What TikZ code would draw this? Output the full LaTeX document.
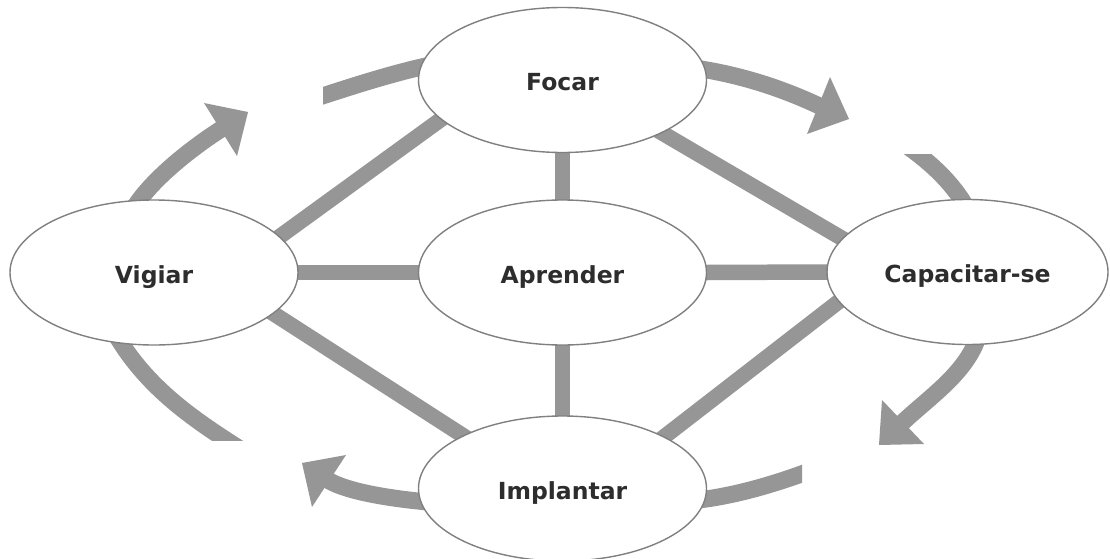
\documentclass[tikz,border=0pt]{standalone}
\usepackage{fontspec}
\setmainfont{DejaVu Sans}
\usetikzlibrary{shapes.geometric,backgrounds}
\definecolor{barc}{RGB}{150,150,150}
\definecolor{edgec}{RGB}{128,128,128}
\definecolor{txtc}{RGB}{45,45,45}
\begin{document}
\begin{tikzpicture}[x=1pt,y=-1pt,
  stage/.style={ellipse, draw=edgec, line width=1.4pt, fill=white,
    minimum width=288pt, minimum height=145pt, inner sep=0pt,
    text=txtc, font=\fontsize{23.5}{28}\selectfont\bfseries,
    text height=21pt, text depth=0pt},
  bar/.style={draw=barc, line width=15.5pt, shorten <=-10pt, shorten >=-10pt},
  band/.style={draw=barc, line width=17pt},
  head/.style={fill=barc}
]
\useasboundingbox (0,0) rectangle (1110,559);
\node[stage] (F) at (562.5,80) {Focar};
\node[stage] (A) at (562.5,272.5) {Aprender};
\node[stage] (V) at (154,272.5) {Vigiar};
\node[stage, minimum width=281pt] (C) at (967.5,272) {Capacitar-se};
\node[stage] (I) at (562.5,488.5) {Implantar};
\begin{scope}[on background layer]
  \fill[white] (0,0) rectangle (1110,559);
  % spokes
  \draw[bar] (V.east) -- (A.west);
  \draw[bar] (A.east) -- (C.west);
  \draw[bar] (F.south) -- (A.north);
  \draw[bar] (A.south) -- (I.north);
  \draw[bar] (V.16.6) -- (F.198.5);
  \draw[bar] (V.-19) -- (I.152.7);
  \draw[bar] (F.-28.5) -- (C.165.7);
  \draw[bar] (I.27) -- (C.193.8);
  % top cycle arc
  \begin{scope}
    \clip (323,0) rectangle (1110,559);
    \draw[band] (310,100) .. controls (350,87) and (395,72) .. (440,63);
  \end{scope}
  \draw[band] (680,66) .. controls (730,72) and (775,85) .. (821,106.7);
  \fill[head] (849,119) -- (830,77) -- (807,134) -- cycle;
  % right cycle arc
  \begin{scope}
    \clip (0,154) rectangle (1110,559);
    \draw[band] (900,141) .. controls (932,163) and (960,188) .. (975,225);
  \end{scope}
  \draw[band] (982,315) .. controls (980,365) and (933.3,393) .. (900.8,424.1);
  \fill[head] (879,445) -- (882,400) -- (924,444) -- cycle;
  % bottom cycle arc
  \begin{scope}
    \clip (0,0) rectangle (802,559);
    \draw[band] (815,469) .. controls (770,486) and (730,497) .. (690,501);
  \end{scope}
  \draw[band] (440,503) .. controls (400,500) and (347.7,492.9) .. (326.7,479.4);
  \fill[head] (302,463) -- (346,455) -- (312,507) -- cycle;
  % left cycle arc
  \begin{scope}
    \clip (0,0) rectangle (1110,440);
    \draw[band] (240,449) .. controls (195,420) and (140,385) .. (108,320);
  \end{scope}
  \draw[band] (130,215) .. controls (145,185) and (187.6,150.5) .. (223,127.9);
  \fill[head] (248,112) -- (204,103) -- (237,156) -- cycle;
\end{scope}
\end{tikzpicture}
\end{document}
